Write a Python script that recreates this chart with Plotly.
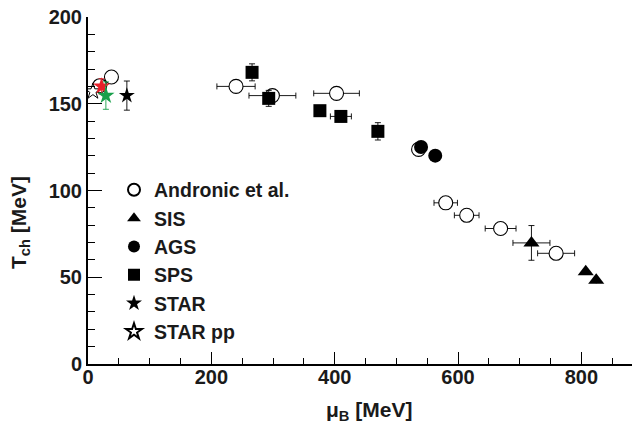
import plotly.graph_objects as go

# ---- data ----
andronic_mu = [38, 19, 240, 299, 403, 536, 580, 614, 669, 759]
andronic_T = [165.4, 160.4, 160.0, 154.7, 156.0, 123.7, 92.9, 85.7, 78.1, 63.8]
andronic_mu_err = [0, 0, 31, 38, 37, 0, 19, 20, 25, 30]

sis_mu = [719, 807, 824]
sis_T = [69.8, 53.1, 48.3]
sis_mu_err = [30, 0, 0]
sis_T_err = [10, 0, 0]

ags_mu = [540, 563]
ags_T = [125.1, 120.1]

sps_mu = [266, 293, 376, 410, 470]
sps_T = [168.1, 153.1, 146.0, 142.7, 134.1]
sps_T_err = [4.9, 4.6, 0, 3, 5]
sps_mu_err = [0, 0, 0, 17, 0]

star_mu = [63]
star_T = [154.7]
star_T_err = [8.4]

star_red_mu = [22]
star_red_T = [160.0]
star_red_err = [4.4]

star_green_mu = [29]
star_green_T = [154.7]
star_green_err = [7.9]

starpp_mu = [8]
starpp_T = [157.1]

series_names = ["Andronic et al.", "SIS", "AGS", "SPS", "STAR", "STAR pp"]

FONT = "Liberation Sans"
INK = "#1a1a1a"

fig = go.Figure()

def eb(arr, w=0.9, cap=3, color="black"):
    return dict(type="data", array=arr, visible=True, color=color, thickness=w, width=cap)

fig.add_trace(go.Scatter(x=andronic_mu, y=andronic_T, mode="markers", name=series_names[0],
                         marker=dict(symbol="circle", size=14, color="white", line=dict(color="black", width=1.1)),
                         error_x=eb(andronic_mu_err)))
fig.add_trace(go.Scatter(x=sis_mu, y=sis_T, mode="markers", name=series_names[1],
                         marker=dict(symbol="triangle-up", size=14, color="black"),
                         error_x=eb(sis_mu_err), error_y=eb(sis_T_err)))
fig.add_trace(go.Scatter(x=ags_mu, y=ags_T, mode="markers", name=series_names[2],
                         marker=dict(symbol="circle", size=14, color="black")))
fig.add_trace(go.Scatter(x=sps_mu, y=sps_T, mode="markers", name=series_names[3],
                         marker=dict(symbol="square", size=13, color="black"),
                         error_x=eb(sps_mu_err), error_y=eb(sps_T_err)))
fig.add_trace(go.Scatter(x=star_mu, y=star_T, mode="markers", name=series_names[4],
                         marker=dict(symbol="star", size=12, color="black"),
                         error_y=eb(star_T_err)))
fig.add_trace(go.Scatter(x=starpp_mu, y=starpp_T, mode="markers", name=series_names[5],
                         marker=dict(symbol="star", size=12, color="white", line=dict(color="black", width=1))))
fig.add_trace(go.Scatter(x=star_red_mu, y=star_red_T, mode="markers", showlegend=False,
                         marker=dict(symbol="star", size=13, color="#e8202a"),
                         error_y=eb(star_red_err, color="#e8202a")))
fig.add_trace(go.Scatter(x=star_green_mu, y=star_green_T, mode="markers", showlegend=False,
                         marker=dict(symbol="star", size=13, color="#19a04b"),
                         error_y=eb(star_green_err, color="#19a04b")))

# page has an 8px body margin; targets below are in page pixels
OFF = 8
W, H = 640, 431
PL, PT, PR, PB = 88, 17.3, 640, 364.5   # plot-area edges on the page
L, T = PL - OFF, PT - OFF
R = W - (PR - OFF)
B = H - (PB - OFF)
pw, ph = W - L - R, H - T - B

def px_x(p):
    return (p - PL) / pw

def px_y(p):
    return (PB - p) / ph

tickfont = dict(family=FONT, size=20, color=INK, weight="bold")

fig.update_layout(
    width=W, height=H,
    margin=dict(l=L, r=R, t=T, b=B, autoexpand=False),
    paper_bgcolor="white", plot_bgcolor="white",
    font=dict(family=FONT, color=INK),
    xaxis=dict(range=[0, 895], dtick=200, tick0=0, ticks="inside", ticklen=12, tickwidth=1.2,
               tickcolor="black", showline=True, linewidth=2, linecolor="black",
               showgrid=False, zeroline=False, tickfont=tickfont, automargin=False,
               ticklabeloverflow="allow", ticklabelstandoff=-6,
               minor=dict(dtick=50, ticks="inside", ticklen=6, tickwidth=1, tickcolor="black", showgrid=False)),
    xaxis2=dict(range=[0, 895], overlaying="x", side="top", anchor="y", dtick=200, tick0=0,
                ticks="inside", ticklen=12, tickwidth=1.2, tickcolor="black", showline=True,
                linewidth=2, linecolor="black",
                showticklabels=False, showgrid=False, zeroline=False, automargin=False,
                minor=dict(dtick=50, ticks="inside", ticklen=6, tickwidth=1, tickcolor="black", showgrid=False)),
    yaxis=dict(range=[0, 200], dtick=50, tick0=0, ticks="inside", ticklen=14, tickwidth=1.2,
               tickcolor="black", showline=True, linewidth=2, linecolor="black",
               showgrid=False, zeroline=False, tickfont=tickfont, automargin=False,
               ticklabeloverflow="allow",
               minor=dict(dtick=10, ticks="inside", ticklen=7, tickwidth=1, tickcolor="black", showgrid=False)),
    yaxis2=dict(range=[0, 200], overlaying="y", side="right", anchor="x", dtick=50, tick0=0,
                ticks="inside", ticklen=13, tickwidth=1.2, tickcolor="black", showline=False,
                showticklabels=False, showgrid=False, zeroline=False, automargin=False,
                minor=dict(dtick=10, ticks="inside", ticklen=5, tickwidth=1, tickcolor="black", showgrid=False)),
    legend=dict(x=px_x(114), y=px_y(171), xanchor="left", yanchor="top",
                bgcolor="rgba(0,0,0,0)", borderwidth=0, itemsizing="constant",
                font=dict(family=FONT, size=19.5, color=INK, weight="bold"),
                tracegroupgap=0),
    showlegend=True,
    annotations=[
        dict(text="<b>T<sub>ch</sub> [MeV]</b>", textangle=-90, xref="paper", yref="paper",
             x=px_x(19.5), y=px_y(223), xanchor="center", yanchor="middle", showarrow=False,
             font=dict(family=FONT, size=21, color=INK)),
        dict(text="<b>μ<sub>B</sub> [MeV]</b>", xref="paper", yref="paper",
             x=px_x(369), y=px_y(397), xanchor="center", yanchor="top", showarrow=False,
             font=dict(family=FONT, size=21, color=INK)),
    ],
)

fig.write_html("out.html")
